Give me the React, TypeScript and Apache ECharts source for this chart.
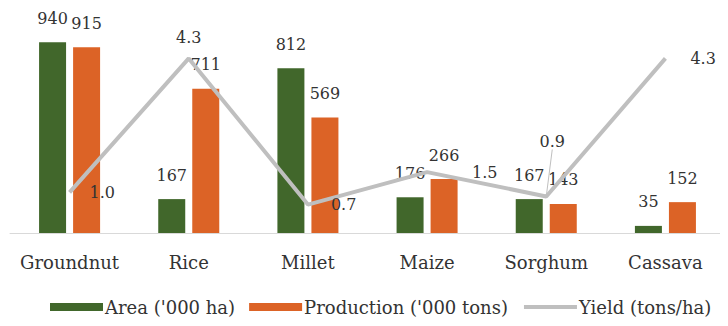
import React, { useEffect, useRef } from "react";
import * as echarts from "echarts";

const categories = ["Groundnut", "Rice", "Millet", "Maize", "Sorghum", "Cassava"];
const areaValues = [940, 167, 812, 176, 167, 35];
const productionValues = [915, 711, 569, 266, 143, 152];
const yieldValues = [1.0, 4.3, 0.7, 1.5, 0.9, 4.3];

const FONT = "DejaVu Serif";
const TEXT = "#333333";

export default function App() {
  const ref = useRef<HTMLDivElement>(null);
  useEffect(() => {
    if (!ref.current) return;
    const chart = echarts.init(ref.current, null, { renderer: "svg" });
    const yieldLabels: any[] = [
      { position: "right", distance: 19 },
      { position: "top", distance: 12, offset: [5, 0] },
      { position: "right", distance: 22 },
      { position: "right", distance: 44, offset: [0, -7] },
      { position: "top", distance: 6 },
      { position: "right", distance: 24 },
    ];
    const numLabel = { show: true, position: "top", distance: 16, fontFamily: FONT, fontSize: 16, color: TEXT };
    chart.setOption({
      animation: false,
      textStyle: { fontFamily: FONT },
      grid: { left: 10, right: 3, top: 30, bottom: 93, containLabel: false },
      legend: {
        left: 45,
        top: 293,
        itemWidth: 53,
        itemHeight: 8,
        itemGap: 14,
        textStyle: { fontFamily: FONT, fontSize: 18, color: TEXT, padding: [0, 0, 0, -3] },
        data: [
          { name: "Area ('000 ha)", icon: "rect" },
          { name: "Production ('000 tons)", icon: "rect" },
          {
            name: "Yield (tons/ha)",
            itemStyle: { opacity: 0 },
            lineStyle: { width: 4, color: "#bfbfbf" },
          },
        ],
      },
      xAxis: {
        type: "category",
        data: categories,
        axisLine: { lineStyle: { color: "#d9d9d9", width: 1 } },
        axisTick: { show: false },
        axisLabel: { fontFamily: FONT, fontSize: 18, color: TEXT, margin: 20, interval: 0 },
      },
      yAxis: [
        { type: "value", min: 0, max: 1000, show: false, splitLine: { show: false } },
        { type: "value", min: 0, max: 5, show: false, splitLine: { show: false } },
      ],
      series: [
        {
          name: "Area ('000 ha)",
          type: "bar",
          data: areaValues,
          barWidth: 27,
          barGap: "26%",
          itemStyle: { color: "#41672b" },
          label: numLabel,
        },
        {
          name: "Production ('000 tons)",
          type: "bar",
          data: productionValues,
          barWidth: 27,
          barGap: "26%",
          itemStyle: { color: "#dc6326" },
          label: numLabel,
        },
        {
          name: "Yield (tons/ha)",
          type: "line",
          yAxisIndex: 1,
          z: 5,
          symbol: "none",
          lineStyle: { color: "#bfbfbf", width: 4 },
          itemStyle: { color: "#bfbfbf" },
          data: yieldValues,
        },
        {
          name: "yieldLabels",
          type: "line",
          yAxisIndex: 1,
          z: 6,
          symbol: "circle",
          symbolSize: 2,
          showSymbol: true,
          lineStyle: { width: 0, color: "rgba(0,0,0,0)" },
          itemStyle: { color: "rgba(0,0,0,0)", borderWidth: 0 },
          silent: true,
          labelLayout: (p: any) => (p.dataIndex === 4 ? { dx: 6, dy: -40 } : {}),
          data: yieldValues.map((v, i) => ({
            value: v,
            label: {
              show: true,
              fontFamily: FONT,
              fontSize: 16,
              color: TEXT,
              formatter: (p: any) => Number(p.value).toFixed(1),
              ...yieldLabels[i],
            },
            ...(i === 4
              ? { labelLine: { show: true, length2: 0, lineStyle: { color: "#bfbfbf", width: 1 } } }
              : {}),
          })),
        },
      ],
    });
    return () => chart.dispose();
  }, []);
  return <div ref={ref} style={{ width: 728, height: 326, margin: -8 }} />;
}
